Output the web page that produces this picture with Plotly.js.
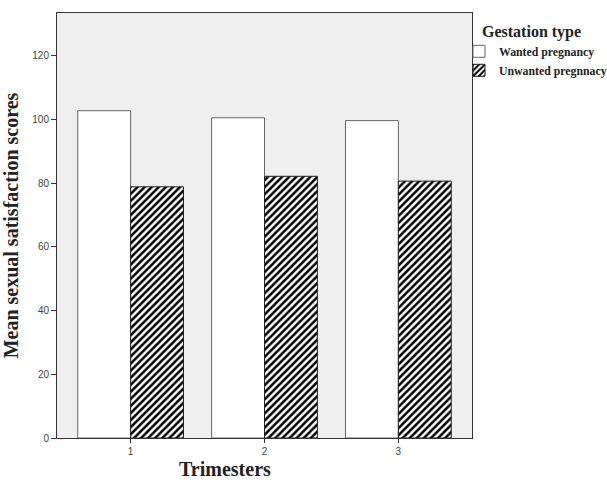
<!DOCTYPE html>
<html><head><meta charset="utf-8">
<script src="https://cdn.plot.ly/plotly-3.0.1.min.js"></script>
<style>body{margin:0;background:#fff}#chart{width:607px;height:480px}</style>
</head><body><div id="chart"></div>
<script>
const trimesters = ["1", "2", "3"];
const wanted = [102.8, 100.6, 99.7];
const unwanted = [78.9, 82.2, 80.7];
const seriesNames = ["Wanted pregnancy", "Unwanted pregnnacy"];
const yTicks = [0, 20, 40, 60, 80, 100, 120];

const xs = [1, 2, 3];
const serif = "Liberation Serif, Times New Roman, serif";
const traces = [
  {type: "bar", x: xs, y: wanted, name: seriesNames[0],
   marker: {color: "#ffffff", line: {color: "#666666", width: 1}}},
  {type: "bar", x: xs, y: unwanted, name: seriesNames[1],
   marker: {color: "#ffffff", line: {color: "#222222", width: 1},
            pattern: {shape: "/", fgcolor: "#000000", bgcolor: "#ffffff", size: 5, solidity: 0.5}}}
];
const layout = {
  width: 607, height: 480,
  margin: {l: 57, r: 135, t: 13, b: 42},
  paper_bgcolor: "#ffffff", plot_bgcolor: "#efefef",
  barmode: "group", bargap: 0.21, bargroupgap: 0,
  font: {family: "Liberation Sans, Arial, sans-serif", size: 10, color: "#444"},
  xaxis: {range: [0.45, 3.55], tickvals: xs, ticktext: trimesters, ticks: "outside", ticklen: 4,
          tickcolor: "#333", showline: true, linecolor: "#333", linewidth: 1, mirror: true,
          showgrid: false, zeroline: false, fixedrange: true},
  yaxis: {range: [0, 133.5], tickvals: yTicks, ticks: "outside", ticklen: 5,
          tickcolor: "#333", showline: true, linecolor: "#333", linewidth: 1, mirror: true,
          showgrid: false, zeroline: false, fixedrange: true,
          title: {text: "Mean sexual satisfaction scores", standoff: 8,
                  font: {family: serif, size: 20, color: "#222", weight: "bold"}}},
  annotations: [{text: "Trimesters", xref: "paper", yref: "paper", x: 0.405, y: -0.074,
                 xanchor: "center", yanchor: "middle", showarrow: false, borderpad: 0,
                 font: {family: serif, size: 20, color: "#222", weight: "bold"}}],
  legend: {xref: "container", yref: "container", x: 472 / 607, xanchor: "left", y: 1 - 16 / 480, yanchor: "top",
           bgcolor: "rgba(0,0,0,0)", traceorder: "normal", itemwidth: 30, indentation: -13,
           font: {family: serif, size: 11.8, color: "#222", weight: "bold"},
           title: {text: "\u00a0\u00a0Gestation type", side: "top",
                   font: {family: serif, size: 16, color: "#222", weight: "bold"}}},
  showlegend: true
};
Plotly.newPlot("chart", traces, layout, {displayModeBar: false, staticPlot: true});
</script></body></html>
